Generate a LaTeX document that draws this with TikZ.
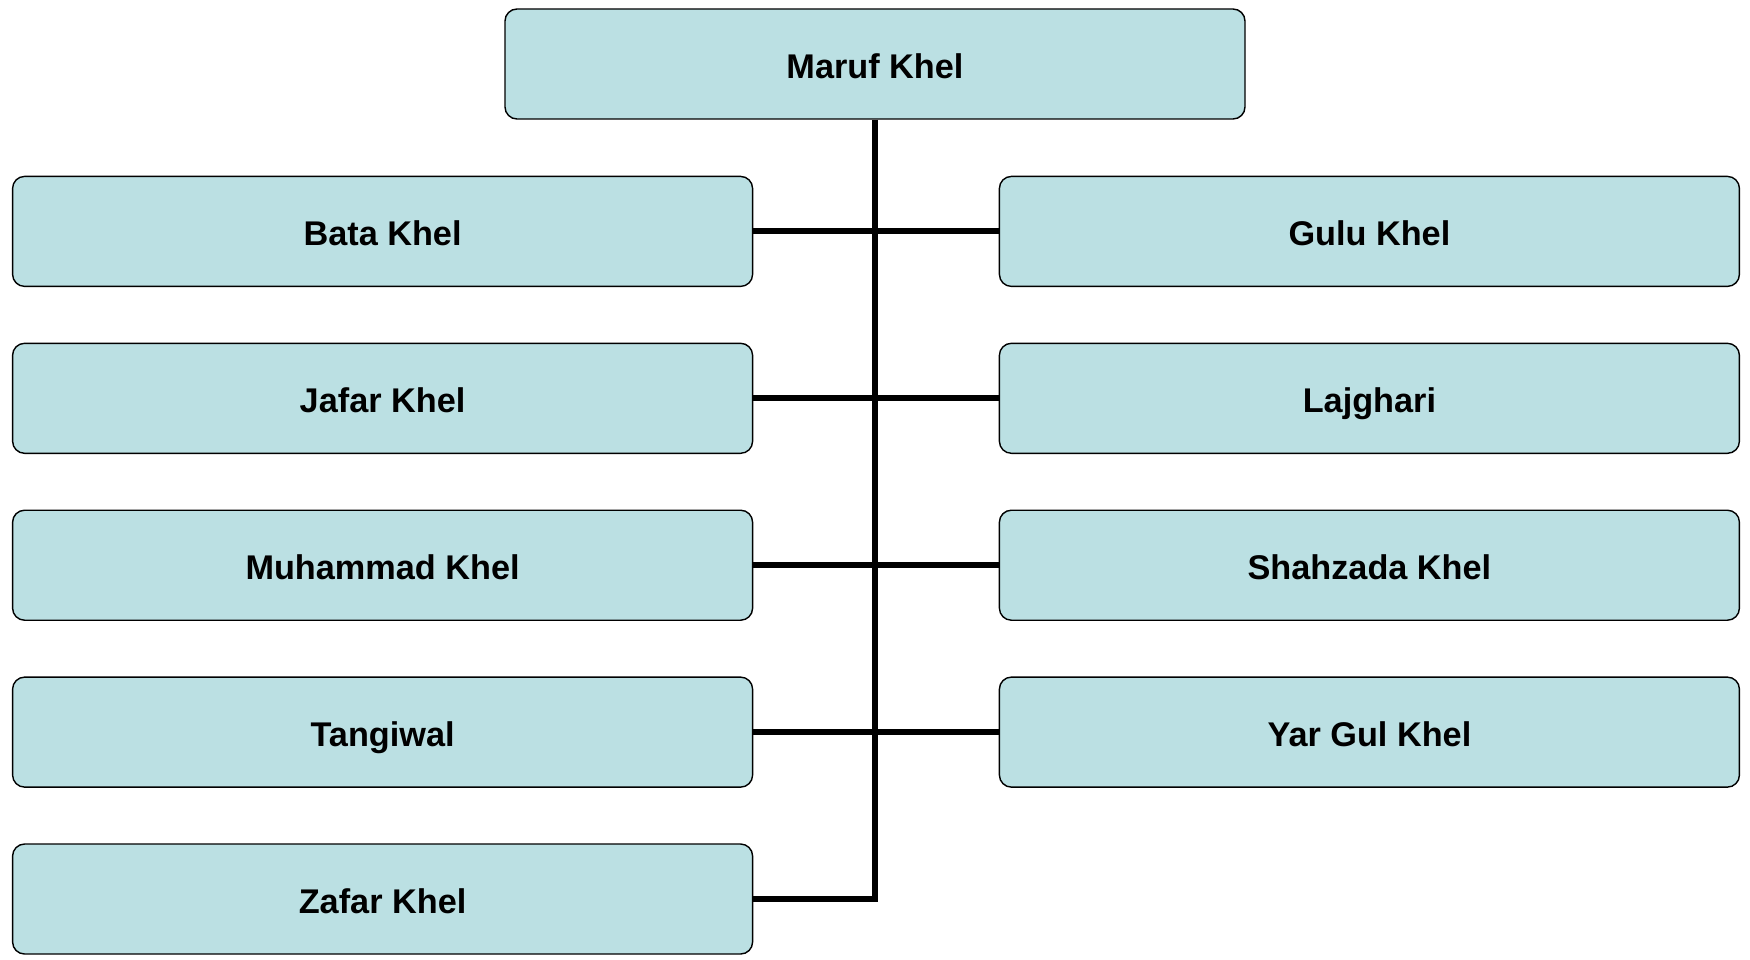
\documentclass[tikz,border=0pt]{standalone}
\usepackage{fontspec}
\setmainfont{Liberation Sans}
\usepackage{tikz}
\usetikzlibrary{positioning}
\definecolor{clanblue}{HTML}{BBE0E3}

\begin{document}
\begin{tikzpicture}[
        every node/.style={
            draw,
            fill=clanblue,
            line width=0.8pt,
            rounded corners=0.24cm,
            text=black,
            font=\fontsize{19.5}{23}\selectfont\bfseries,
            minimum width=14.8cm,
            minimum height=2.2cm,
            inner sep=0pt,
            text height=19.5pt,
            text depth=3.5pt,
            align=center},
        link/.style={line width=0.12cm}]

        \useasboundingbox (0,0) rectangle (35,-19.2);

        \node[](maruf) at (17.5,-1.28) {Maruf Khel};
        \node[below left=1.12cm and -4.98cm of maruf](bata) {Bata Khel};
        \node[below right=1.12cm and -4.94cm of maruf](gulu) {Gulu Khel};
        \node[below=1.11cm of bata](jafar) {Jafar Khel};
        \node[below=1.11cm of jafar](muhammad) {Muhammad Khel};
        \node[below=1.11cm of muhammad](tangiwal) {Tangiwal};
        \node[below=1.11cm of tangiwal](zafar) {Zafar Khel};
        \node[below=1.11cm of gulu](lajghari) {Lajghari};
        \node[below=1.11cm of lajghari](shahzada) {Shahzada Khel};
        \node[below=1.11cm of shahzada](yargul) {Yar Gul Khel};

        \draw[link] (maruf.south) |- (zafar.east);
        \draw[link] (bata) -- (gulu);
        \draw[link] (jafar) -- (lajghari);
        \draw[link] (muhammad) -- (shahzada);
        \draw[link] (tangiwal) -- (yargul);
    \end{tikzpicture}
\end{document}
